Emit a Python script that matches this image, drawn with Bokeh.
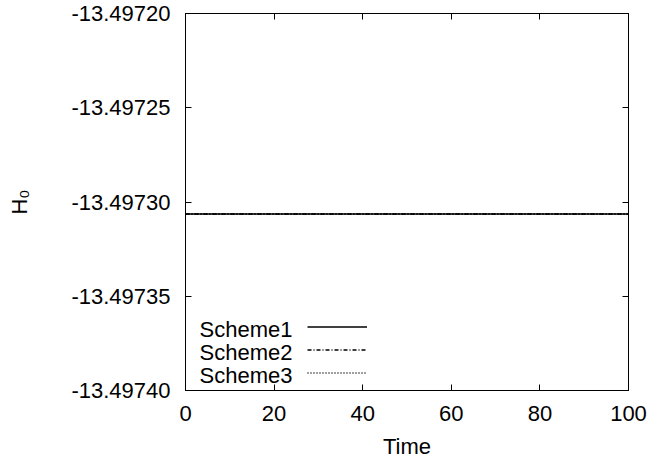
from bokeh.plotting import figure
from bokeh.models import LinearAxis, Range1d, FixedTicker, PrintfTickFormatter, Legend, LegendItem, Label
from bokeh.embed import file_html
from bokeh.resources import INLINE

# data
time = [0, 20, 40, 60, 80, 100]
scheme1 = [-13.4973063] * 6
scheme2 = [-13.4973063] * 6
scheme3 = [-13.4973063] * 6
series_names = ["Scheme1", "Scheme2", "Scheme3"]
x_ticks = [0, 20, 40, 60, 80, 100]
y_ticks = [-13.49740, -13.49735, -13.49730, -13.49725, -13.49720]

FONT = "Liberation Sans"
FS = "22px"

p = figure(width=655, height=464, output_backend="svg", toolbar_location=None,
           x_range=Range1d(0, 100), y_range=Range1d(-13.49740, -13.49720),
           min_border_left=185, min_border_right=27, min_border_top=13, min_border_bottom=74)
p.grid.visible = False
p.outline_line_color = "black"
p.outline_line_width = 1
p.background_fill_color = "white"
p.border_fill_color = "white"

for ax in (p.xaxis[0], p.yaxis[0]):
    ax.major_tick_in = 6
    ax.major_tick_out = 0
    ax.minor_tick_in = 0
    ax.minor_tick_out = 0
    ax.axis_line_color = "black"
    ax.major_tick_line_color = "black"
    ax.major_label_text_font = FONT
    ax.major_label_text_font_size = FS
    ax.major_label_text_color = "black"
    ax.axis_label_text_font = FONT
    ax.axis_label_text_font_size = FS
    ax.axis_label_text_font_style = "normal"
    ax.axis_label_text_color = "black"

p.xaxis[0].ticker = FixedTicker(ticks=x_ticks)
p.xaxis[0].major_label_standoff = 15
p.xaxis[0].axis_label = "Time"
p.xaxis[0].axis_label_standoff = 10

p.yaxis[0].ticker = FixedTicker(ticks=y_ticks)
p.yaxis[0].formatter = PrintfTickFormatter(format="%.5f")
p.yaxis[0].major_label_standoff = 15
p.yaxis[0].axis_label = "H\u2080"
p.yaxis[0].axis_label_standoff = 36

# mirrored ticks
top = LinearAxis(ticker=FixedTicker(ticks=x_ticks), major_tick_in=6, major_tick_out=0,
                 minor_tick_in=0, minor_tick_out=0, major_label_text_font_size="1px",
                 major_label_overrides={t: "" for t in x_ticks},
                 major_label_standoff=0, axis_line_color="black")
right = LinearAxis(ticker=FixedTicker(ticks=y_ticks), major_tick_in=6, major_tick_out=0,
                   minor_tick_in=0, minor_tick_out=0, major_label_text_font_size="1px",
                   major_label_overrides={t: "" for t in y_ticks},
                   major_label_standoff=0, axis_line_color="black")
p.add_layout(top, "above")
p.add_layout(right, "right")

r1 = p.line(time, scheme1, line_color="black", line_width=1.5)
r2 = p.line(time, scheme2, line_color="black", line_width=1.5, line_dash="4 2 1 2")
r3 = p.line(time, scheme3, line_color="black", line_width=1.5, line_dash="1 2")

legend = Legend(items=[LegendItem(label="", renderers=[r]) for r in (r1, r2, r3)],
                location=(122, 6), padding=0, margin=0, spacing=0,
                glyph_width=60, glyph_height=23, label_height=23, label_width=1,
                label_standoff=0, border_line_color=None, background_fill_alpha=0,
                label_text_font_size="1px")
p.add_layout(legend, "center")

for i, name in enumerate(series_names):
    p.add_layout(Label(x=107, y=61 - 23 * i, x_units="screen", y_units="screen",
                       text=name, text_align="right", text_baseline="middle",
                       text_font=FONT, text_font_size=FS, text_color="black"))

open("out.html", "w").write(file_html(p, INLINE))
